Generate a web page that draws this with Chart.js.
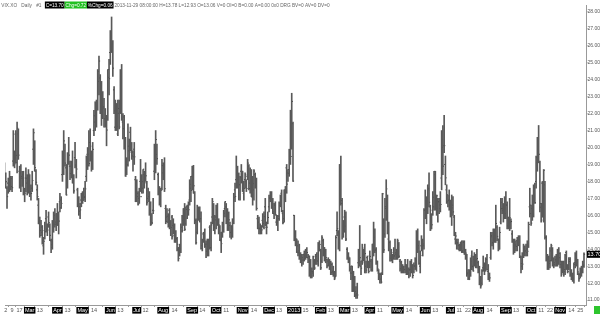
<!DOCTYPE html>
<html lang="en">
<head>
  <meta charset="UTF-8" />
  <title>VIX.XO Daily</title>
  <script src="https://cdn.jsdelivr.net/npm/chart.js"></script>
  <style>
    body { margin: 0; background: #ffffff; }
    #wrap { width: 600px; height: 314px; }
  </style>
</head>
<body>
  <div id="wrap"><canvas id="vixChart" width="600" height="314"></canvas></div>

  <script>
    // trading calendar: weekdays between these dates, minus exchange holidays
    const firstDay = '2012-02-01';
    const lastDay = '2013-11-29';
    const holidays = ['2012-02-20', '2012-04-06', '2012-05-28', '2012-07-04', '2012-09-03', '2012-10-29',
      '2012-10-30', '2012-11-22', '2012-12-25', '2013-01-01', '2013-01-21', '2013-02-18', '2013-03-29',
      '2013-05-27', '2013-07-04', '2013-09-02', '2013-11-28'];

    // OHLC, one line per month (Feb 2012 .. Nov 2013)
    const opens = [
      18.9,18.3,17.6,17.9,18.1,17.9,17.7,19.2,19.6,19.7,19.1,20.8,18.6,18.5,18.3,18.4,17.3,18.2,17.9,17.9,
      18.1,17.4,17.6,19.9,20.1,18.6,17.5,16.6,15.5,15.1,15.0,14.2,15.1,15.8,15.2,15.9,15.3,14.5,14.1,15.5,16.0,15.6,
      16.1,15.4,16.8,16.9,18.4,18.7,19.8,18.8,17.9,19.6,18.9,18.9,18.4,17.9,19.4,18.9,17.5,16.9,16.5,16.9,
      17.3,17.2,17.1,18.3,19.6,19.6,20.3,19.5,19.0,21.0,21.5,21.6,22.7,23.9,24.1,22.3,22.5,22.4,21.7,21.5,21.7,24.6,
      25.6,26.4,26.1,23.4,21.2,22.5,20.8,22.3,22.1,23.9,21.5,21.8,20.4,18.5,19.0,19.8,20.9,19.8,19.5,19.9,18.1,
      17.1,17.3,17.0,18.0,18.2,17.6,18.4,18.4,17.9,17.0,17.1,16.6,15.6,16.3,18.6,18.8,19.6,18.4,17.4,16.8,17.6,
      18.5,18.9,16.4,15.9,15.6,16.3,15.3,15.9,15.4,14.8,15.0,14.6,14.0,14.1,13.9,15.3,15.7,16.4,15.5,16.5,16.4,16.9,17.6,
      18.3,18.1,17.3,15.7,15.0,16.3,16.3,15.8,14.2,14.9,14.9,14.3,14.3,13.9,15.3,14.1,15.9,16.5,15.1,
      15.9,16.2,15.6,15.3,14.5,15.0,15.4,16.4,16.5,15.6,15.9,15.4,15.0,15.2,15.7,17.5,18.1,18.4,17.9,17.8,18.6,
      18.5,17.3,18.1,18.0,18.3,18.9,17.9,18.5,17.6,17.5,18.4,18.0,15.8,15.6,15.2,15.2,15.7,15.3,16.5,15.3,15.6,
      16.5,17.0,17.3,16.9,16.1,16.6,15.6,15.6,15.8,16.7,17.3,16.1,15.8,17.5,18.8,18.5,18.7,19.4,20.9,21.4,
      16.0,14.6,14.6,14.2,13.9,13.6,13.3,13.5,13.7,13.7,13.7,13.5,13.6,13.0,12.7,12.6,13.3,13.3,13.7,13.3,14.1,
      13.9,13.3,14.5,14.1,13.5,13.4,13.3,13.3,12.9,13.1,12.7,12.6,12.4,15.1,15.0,14.2,18.6,16.7,14.9,
      15.9,15.9,14.0,13.5,13.4,12.6,13.0,11.6,12.2,11.5,11.4,13.2,13.3,13.0,13.3,13.9,13.2,13.0,13.5,13.0,
      13.6,13.3,12.8,14.3,14.7,14.0,13.3,12.6,12.5,12.5,12.6,15.7,14.9,16.4,17.0,14.6,14.4,13.6,13.5,13.8,13.6,13.8,
      13.6,14.3,13.3,13.2,12.8,12.9,12.8,13.0,12.9,12.6,12.8,12.8,12.7,12.7,13.0,13.1,15.0,14.2,13.0,14.2,14.3,14.2,
      16.3,16.1,16.4,17.6,16.5,15.5,16.3,16.5,18.4,16.7,16.4,16.8,16.4,18.2,20.0,20.1,19.0,17.5,16.8,16.9,
      16.4,16.5,16.6,15.9,14.6,14.5,14.4,14.0,14.1,14.4,13.9,14.4,13.7,13.6,12.6,12.3,12.6,13.6,13.0,13.4,13.4,13.4,
      13.2,12.9,12.2,12.0,12.9,13.0,12.8,13.4,12.7,12.4,13.5,14.8,14.4,15.0,14.7,15.3,14.6,14.4,15.6,16.4,16.4,16.0,
      16.1,16.6,15.4,15.3,15.6,14.9,14.5,13.9,14.2,14.5,14.4,14.6,13.5,13.0,13.6,13.9,13.9,13.8,14.3,16.5,
      16.1,16.4,16.2,17.6,18.0,19.1,20.2,19.1,16.7,17.9,15.9,17.8,14.7,13.5,13.2,13.3,13.9,14.0,13.3,13.2,13.4,13.2,13.3,
      13.5,13.1,12.9,13.0,12.8,13.8,13.0,12.9,13.4,12.6,12.4,12.3,13.2,13.4,13.2,12.5,12.5,12.6,12.8,13.06
    ];
    const highs = [
      19.1,18.5,17.7,18.2,18.6,18.3,18.3,21.0,19.8,21.0,21.5,21.1,18.9,19.0,18.6,18.6,17.6,18.8,18.4,18.7,
      18.4,17.8,18.6,21.1,20.4,18.7,17.8,17.0,15.9,15.7,15.4,14.7,15.6,16.3,15.5,16.2,15.5,14.6,15.7,16.2,16.4,16.1,
      16.7,16.2,17.3,17.1,19.8,21.0,20.2,19.0,19.7,20.6,19.2,19.2,19.8,18.4,20.3,19.3,17.6,17.1,16.7,17.3,
      17.4,17.6,18.0,19.5,20.0,21.0,21.1,19.8,20.3,22.2,22.7,22.8,24.6,25.4,24.3,23.9,23.3,22.9,22.3,21.9,24.6,25.2,
      26.9,27.7,26.3,23.6,22.8,22.6,22.8,22.8,24.6,24.9,22.0,21.9,20.6,19.4,21.4,20.5,21.2,20.3,19.8,20.3,18.3,
      18.1,17.4,17.6,19.3,18.4,18.7,18.6,19.1,18.0,17.6,17.4,16.8,16.1,17.0,20.2,21.0,20.2,18.5,17.7,17.6,19.3,
      19.1,19.4,16.6,16.4,16.1,16.4,15.7,16.0,15.8,15.5,15.1,14.7,14.1,14.3,15.5,16.0,16.4,16.7,16.5,16.6,16.8,18.1,18.3,
      18.9,18.95,17.4,15.8,16.6,16.5,16.5,16.2,14.6,15.0,15.2,14.5,14.6,14.6,15.4,15.6,17.0,16.7,16.0,
      16.6,16.7,15.8,15.4,15.0,15.6,16.3,16.8,16.7,16.4,16.2,15.6,15.4,15.8,17.3,17.9,19.5,18.9,18.5,18.3,19.0,
      18.6,18.0,18.5,18.1,19.3,19.0,18.8,18.7,18.3,18.7,18.5,18.2,16.0,15.9,15.5,15.4,16.1,16.2,17.0,15.6,16.2,
      17.2,17.4,17.4,17.0,16.7,16.8,16.0,16.0,16.8,17.2,17.5,16.3,17.5,17.7,19.0,18.7,19.9,22.2,23.2,21.5,
      16.0,15.1,14.6,14.5,14.3,13.8,13.7,13.7,13.9,14.0,14.1,13.7,13.6,13.4,12.9,13.6,13.4,13.7,13.8,14.4,14.5,
      14.0,14.8,14.6,14.1,14.0,13.4,13.5,13.4,13.3,13.2,13.0,12.7,14.8,16.2,15.1,19.0,19.5,17.0,15.7,
      16.3,16.2,14.1,13.8,13.5,13.0,13.0,12.7,12.4,11.8,12.0,14.0,15.4,13.3,14.3,14.0,14.3,13.3,13.6,13.3,
      13.9,13.4,14.3,15.6,15.2,14.1,13.3,12.8,12.6,12.6,17.3,15.8,17.0,18.1,17.2,15.6,14.5,14.0,13.7,14.1,14.6,14.0,
      14.6,14.4,13.4,13.3,13.1,13.0,13.4,13.1,13.4,12.9,13.3,13.4,13.1,13.2,13.5,15.1,15.2,14.5,13.9,14.8,14.6,16.4,
      17.5,17.1,17.8,18.5,16.6,16.1,17.4,18.6,18.6,17.2,17.0,17.0,17.4,21.0,21.3,21.9,19.5,17.8,17.2,17.5,
      16.9,17.2,17.1,16.0,15.0,14.6,14.6,14.3,14.4,14.5,14.5,14.5,14.0,13.7,12.8,12.8,13.5,13.9,13.6,13.8,13.7,14.0,
      13.3,13.0,12.4,12.8,13.6,13.2,13.5,13.7,13.1,12.6,15.0,15.0,15.2,15.2,16.6,15.4,14.6,15.3,17.0,17.0,16.7,17.1,
      17.4,16.8,15.9,17.0,15.8,15.1,14.6,14.6,14.5,14.7,14.8,14.8,13.6,13.8,14.3,14.2,14.3,14.5,15.6,17.6,
      16.6,17.2,17.8,17.9,19.5,20.6,21.3,19.2,16.7,18.0,18.7,18.0,14.8,13.7,13.6,14.1,14.3,14.1,13.5,13.6,13.7,14.0,14.1,
      13.8,13.3,13.3,13.3,13.7,13.9,13.1,13.5,13.5,12.8,12.6,13.2,13.8,13.9,13.4,12.6,12.9,13.0,13.3,13.78
    ];
    const lows = [
      17.9,17.6,16.4,17.3,17.4,17.5,17.4,18.9,18.8,19.1,18.5,19.3,17.6,17.4,17.7,17.2,16.8,17.4,17.2,17.3,
      17.1,16.9,17.4,19.0,18.6,17.8,16.9,15.5,14.7,14.8,14.3,13.7,14.6,15.0,14.8,15.3,14.5,13.8,14.0,15.0,15.3,15.1,
      15.4,14.9,16.2,16.4,18.0,18.4,18.9,17.2,17.6,19.0,18.1,18.2,17.9,17.3,18.8,18.2,16.5,16.0,15.8,16.5,
      16.7,16.9,16.8,18.0,18.7,18.9,19.2,18.6,18.7,20.7,21.0,21.2,22.2,23.1,22.0,21.3,21.7,21.2,21.2,20.1,21.6,23.1,
      24.9,25.6,24.2,22.0,21.0,21.0,20.7,21.1,22.0,21.6,20.5,19.9,18.3,18.4,18.9,19.2,19.8,19.3,18.6,19.0,16.8,
      16.8,16.6,16.7,17.4,17.3,17.3,17.6,18.0,16.6,16.8,16.0,15.4,15.5,16.1,18.1,18.5,19.0,17.2,16.6,16.5,17.5,
      18.1,17.4,15.5,15.6,15.3,15.2,14.8,14.6,14.9,14.4,14.4,13.9,13.3,13.6,13.8,15.0,15.4,15.1,15.4,15.8,16.0,16.6,16.8,
      17.5,17.3,15.5,14.3,14.9,15.7,15.6,14.0,13.9,14.4,14.1,13.5,13.6,13.6,14.0,13.9,15.5,15.1,14.9,
      15.2,15.4,14.9,14.5,13.8,14.7,15.0,15.9,15.5,15.1,15.1,14.7,14.6,14.7,15.5,16.8,17.6,17.6,16.9,16.9,17.9,
      17.4,16.9,17.6,17.4,18.1,17.5,17.3,17.1,16.6,16.9,17.6,16.3,15.2,14.9,14.9,14.9,15.3,15.2,15.4,14.9,15.5,
      16.2,16.8,16.4,16.1,15.8,16.0,15.4,15.1,15.7,16.5,16.2,15.5,15.6,16.8,17.3,18.0,18.3,19.0,19.9,18.0,
      14.5,14.2,13.8,13.6,13.4,13.2,13.0,13.1,13.3,13.4,13.5,13.2,12.4,12.3,12.3,12.4,12.8,13.1,13.1,13.0,13.9,
      12.8,13.2,13.6,13.3,13.2,12.9,13.0,12.8,12.5,12.5,12.4,12.2,12.4,14.8,14.0,13.9,16.6,14.6,14.7,
      15.0,14.5,13.4,13.2,12.7,12.2,11.5,11.5,11.2,11.1,11.1,12.9,13.0,12.5,13.1,13.3,12.6,12.6,12.9,12.6,
      12.9,12.7,12.7,13.6,13.8,13.1,12.7,12.2,12.0,12.0,12.5,13.8,14.7,15.7,14.9,13.9,13.3,13.3,13.2,13.4,13.4,13.4,
      13.4,13.5,12.7,12.6,12.6,12.6,12.6,12.5,12.5,12.3,12.4,12.6,12.3,12.6,12.8,12.7,13.8,13.1,12.6,13.9,13.6,14.0,
      15.8,15.5,16.1,16.5,15.1,15.2,16.0,16.3,16.3,16.0,15.6,16.1,16.2,17.5,18.4,19.7,17.8,16.7,16.5,16.3,
      15.9,15.4,16.0,14.8,14.3,14.0,14.0,13.9,13.9,13.8,13.8,13.7,13.4,12.4,12.2,12.2,12.4,12.8,12.7,13.0,12.9,12.9,
      12.6,11.9,11.7,11.9,12.7,12.5,12.7,12.8,12.2,12.1,13.4,14.2,14.0,14.4,14.4,14.5,13.9,14.0,15.5,16.1,15.6,15.8,
      15.8,15.2,15.2,15.1,15.2,14.4,13.7,13.8,13.9,13.9,14.2,13.5,12.6,12.8,13.5,13.6,13.6,13.6,14.1,15.9,
      15.4,15.7,15.9,16.7,17.6,18.6,19.1,16.2,15.6,15.9,15.6,14.6,13.3,12.8,12.8,12.9,13.3,13.0,12.9,13.0,13.0,13.0,13.1,
      12.9,12.4,12.6,12.4,12.5,12.8,12.6,12.8,12.4,12.2,12.1,12.0,12.9,13.0,12.5,12.1,12.3,12.4,12.6,12.93
    ];
    const closes = [
      18.31,17.98,17.10,17.76,17.87,18.16,17.63,20.79,19.04,19.54,21.14,19.55,17.78,18.19,18.19,17.31,17.31,18.19,17.95,18.43,
      17.26,17.29,18.05,20.87,18.81,17.95,17.11,15.64,14.80,15.31,14.47,14.47,15.04,15.13,15.13,15.57,14.82,14.26,15.59,15.47,15.48,15.50,
      15.64,15.66,16.44,16.70,18.81,20.39,19.08,17.20,19.55,19.55,18.46,18.64,18.36,17.44,18.97,18.73,16.82,16.24,16.32,17.15,
      16.88,17.05,17.56,19.16,18.94,19.05,20.08,18.83,19.89,21.87,21.97,22.27,24.49,25.10,22.01,22.48,22.33,21.68,21.76,21.03,24.14,24.06,
      26.66,26.12,24.68,22.16,21.72,21.23,22.02,21.21,22.71,21.68,21.11,20.25,18.32,18.96,20.08,19.71,20.11,19.72,19.45,19.45,17.08,
      17.11,16.66,17.50,17.10,17.98,18.72,17.95,18.33,16.74,17.11,16.48,15.45,15.55,16.27,18.62,20.47,19.34,17.53,16.70,17.48,18.93,
      18.96,17.57,15.64,15.95,15.99,15.32,15.28,14.74,15.02,14.85,14.63,14.29,13.45,14.02,15.07,15.11,16.27,15.18,16.35,16.25,16.33,17.83,17.47,
      17.98,17.74,15.60,14.38,16.28,16.41,15.80,14.05,14.51,14.59,14.18,13.88,13.98,14.51,14.08,15.43,16.81,15.28,15.73,
      16.32,15.71,15.43,14.55,14.33,15.12,16.12,16.80,15.58,16.14,15.73,14.98,15.03,15.56,17.06,17.11,18.71,18.03,17.81,18.22,18.60,
      17.54,17.59,18.39,17.58,19.08,17.58,18.61,17.08,17.87,18.61,17.99,16.41,15.24,15.24,15.31,15.14,15.51,15.92,15.42,15.30,15.87,
      17.03,17.06,16.58,16.20,16.60,16.05,15.57,15.95,16.56,17.00,16.24,15.57,17.36,17.67,17.84,18.48,19.47,19.47,22.72,18.02,
      14.68,14.56,13.83,13.79,13.62,13.49,13.36,13.36,13.52,13.55,13.81,13.57,12.46,12.43,12.69,13.57,12.89,13.57,13.31,14.32,14.28,
      12.90,14.67,13.72,13.41,13.50,13.02,13.16,12.94,12.64,12.66,12.46,12.31,14.68,15.22,14.17,18.99,16.87,14.73,15.51,
      15.36,14.60,13.48,13.53,12.83,12.59,11.56,12.27,11.30,11.30,11.30,13.35,13.50,12.88,14.07,13.57,13.74,12.77,13.15,12.70,
      13.58,12.78,14.21,13.89,13.92,13.19,12.84,12.36,12.24,12.06,17.27,13.96,16.51,17.56,14.97,14.39,13.48,13.61,13.62,13.61,13.71,13.52,
      14.49,13.59,12.85,12.66,12.73,12.80,13.09,12.59,12.55,12.77,12.80,13.07,12.45,13.02,13.37,14.39,14.07,13.17,13.63,14.48,14.31,16.30,
      16.29,16.27,17.50,16.77,15.14,15.44,17.07,18.59,16.41,17.15,16.80,16.61,16.64,20.49,18.90,20.11,18.21,17.21,16.86,16.86,
      16.60,16.44,16.20,14.89,14.78,14.35,14.21,14.01,14.42,13.84,14.42,13.78,13.77,12.54,12.29,12.59,13.28,12.97,12.72,13.39,13.39,13.45,
      12.94,11.98,11.84,12.72,12.98,12.73,13.41,12.81,12.31,12.31,14.73,14.37,15.10,14.70,15.52,14.76,13.98,14.99,16.77,16.27,15.91,17.01,
      16.61,15.36,15.58,15.85,15.63,14.53,13.82,14.29,14.16,14.38,14.53,13.59,13.16,13.12,14.08,13.90,14.01,13.88,15.46,16.60,
      15.54,16.60,17.67,16.74,19.41,20.34,19.60,16.48,15.72,16.07,18.66,14.71,13.42,13.04,13.16,13.33,14.20,13.20,13.09,13.31,13.41,13.33,13.75,
      13.28,12.53,13.27,12.67,13.65,12.90,12.68,13.28,12.52,12.37,12.19,13.10,13.39,13.40,12.66,12.26,12.57,12.81,12.98,13.70
    ];

    // x-axis labels as they appear under the bars; words get the black box
    const tickDates = ['2012-02-02', '2012-02-09', '2012-02-17', '2012-03-01', '2012-03-13', '2012-04-02', '2012-04-13',
      '2012-05-01', '2012-05-14', '2012-06-01', '2012-06-13', '2012-07-02', '2012-07-12', '2012-08-01', '2012-08-14',
      '2012-09-04', '2012-09-14', '2012-10-01', '2012-10-11', '2012-11-01', '2012-11-14', '2012-12-03', '2012-12-13',
      '2013-01-02', '2013-01-15', '2013-02-01', '2013-02-13', '2013-03-01', '2013-03-13', '2013-04-01', '2013-04-11',
      '2013-05-01', '2013-05-14', '2013-06-03', '2013-06-13', '2013-07-01', '2013-07-11', '2013-07-22', '2013-08-01',
      '2013-08-14', '2013-09-03', '2013-09-13', '2013-10-01', '2013-10-11', '2013-10-22', '2013-11-01', '2013-11-14', '2013-11-25'];
    const tickText = ['2', '9', '17', 'Mar', '13', 'Apr', '13', 'May', '14', 'Jun', '13', 'Jul', '12', 'Aug', '14',
      'Sep', '14', 'Oct', '11', 'Nov', '14', 'Dec', '13', '2013', '15', 'Feb', '13', 'Mar', '13', 'Apr', '11',
      'May', '14', 'Jun', '13', 'Jul', '11', '22', 'Aug', '14', 'Sep', '13', 'Oct', '11', '22', 'Nov', '14', '25'];
    const priceTicks = [11, 12, 13, 14, 15, 16, 17, 18, 19, 20, 21, 22, 23, 24, 25, 26, 27, 28];

    const FONT = '"Liberation Sans Narrow", "Liberation Sans", Arial, sans-serif';

    // build the list of trading days
    const dates = [];
    for (let d = new Date(firstDay + 'T00:00:00Z'); d <= new Date(lastDay + 'T00:00:00Z'); d.setUTCDate(d.getUTCDate() + 1)) {
      const iso = d.toISOString().slice(0, 10);
      const wd = d.getUTCDay();
      if (wd === 0 || wd === 6 || holidays.includes(iso)) continue;
      dates.push(iso);
    }
    if (dates.length !== closes.length) console.warn('day count mismatch', dates.length, closes.length);

    const tickIdx = tickDates.map(t => dates.indexOf(t));
    const isWord = tickText.map(t => /[A-Za-z]/.test(t) || t.length === 4);

    const n = closes.length;
    const last = closes[n - 1];
    const prev = closes[n - 2];

    // status line, last price box and the corner marker
    const overlayPlugin = {
      id: 'overlay',
      afterDraw(chart) {
        const ctx = chart.ctx;
        const area = chart.chartArea;
        ctx.save();
        ctx.textBaseline = 'middle';

        // status line is drawn a bit condensed, like the terminal font
        ctx.save();
        ctx.scale(0.86, 1);
        ctx.font = '5.5px ' + FONT;
        const chg = last - prev;
        const parts = [
          ['VIX.XO', null], ['Daily', null], ['#1', null],
          ['C=' + last.toFixed(2), '#000'],
          ['Chg=' + chg.toFixed(2), '#22c022'],
          ['%Chg=' + (chg / prev).toFixed(2), '#000'],
          ['2013-11-29 08:00:00 H=' + highs[n - 1].toFixed(2) + ' L=' + lows[n - 1].toFixed(2) + ' O=' + opens[n - 1].toFixed(2) +
            ' V=0 OI=0 B=0.00 A=0.00 0x0 DRG BV=0 AV=0 DV=0', null]
        ];
        let x = 1.5;
        parts.forEach(([txt, bg]) => {
          const w = ctx.measureText(txt).width;
          if (bg) {
            ctx.fillStyle = bg;
            ctx.fillRect(x - 1, 1.5, w + 2, 7);
            ctx.fillStyle = '#fff';
          } else {
            ctx.fillStyle = '#666';
          }
          ctx.fillText(txt, x, 5);
          x += w + (bg ? 2 : 5);
        });
        ctx.restore();

        // last close on the price axis
        ctx.font = '5.5px ' + FONT;
        const y = chart.scales.y.getPixelForValue(last);
        ctx.fillStyle = '#000';
        ctx.fillRect(area.right + 1, y - 3.5, chart.width - area.right - 1, 7);
        ctx.fillStyle = '#fff';
        ctx.fillText(last.toFixed(2), area.right + 1.5, y);

        ctx.fillStyle = '#2ec52e';
        ctx.fillRect(chart.width - 6, area.bottom + 1, 6, chart.height - area.bottom - 1);
        ctx.restore();
      }
    };

    new Chart(document.getElementById('vixChart'), {
      type: 'bar',
      data: {
        datasets: [
          {
            type: 'bar',
            data: dates.map((d, i) => ({ x: i, y: [lows[i], highs[i]] })),
            backgroundColor: '#595959',
            borderWidth: 0,
            barThickness: 1,
            grouped: false
          },
          {
            type: 'scatter',
            data: opens.map((v, i) => ({ x: i - 0.4, y: v })),
            pointStyle: 'line',
            radius: 0.6,
            borderColor: '#111',
            borderWidth: 1
          },
          {
            type: 'scatter',
            data: closes.map((v, i) => ({ x: i + 0.4, y: v })),
            pointStyle: 'line',
            radius: 0.6,
            borderColor: '#111',
            borderWidth: 1
          }
        ]
      },
      options: {
        responsive: false,
        animation: false,
        devicePixelRatio: 1,
        events: [],
        layout: { padding: 0 },
        plugins: { legend: { display: false }, tooltip: { enabled: false } },
        scales: {
          x: {
            type: 'linear',
            bounds: 'data',
            min: 0.4,
            max: 461.6,
            offset: false,
            afterFit(s) { s.height = 9; s.paddingLeft = 0; s.paddingRight = 0; },
            afterBuildTicks(s) { s.ticks = tickIdx.map(v => ({ value: v })); },
            border: { color: '#999' },
            grid: { drawOnChartArea: false, tickLength: 2, color: '#999' },
            ticks: {
              autoSkip: false,
              maxRotation: 0,
              minRotation: 0,
              padding: 0,
              font: { family: FONT, size: 5.5 },
              color: c => isWord[c.index] ? '#fff' : '#555',
              showLabelBackdrop: c => isWord[c.index],
              backdropColor: '#000',
              backdropPadding: { top: 0, bottom: 0, left: 1, right: 1 },
              callback: (v, i) => tickText[i]
            }
          },
          y: {
            type: 'linear',
            position: 'right',
            bounds: 'data',
            min: 10.71,
            max: 28.406,
            afterFit(s) { s.width = 14; s.paddingTop = 0; s.paddingBottom = 0; },
            afterBuildTicks(s) { s.ticks = priceTicks.map(v => ({ value: v })); },
            border: { color: '#999' },
            grid: { drawOnChartArea: false, tickLength: 1.5, color: '#999' },
            ticks: {
              padding: 0,
              font: { family: FONT, size: 5 },
              color: '#555',
              callback: v => v.toFixed(2)
            }
          }
        }
      },
      plugins: [overlayPlugin]
    });
  </script>
</body>
</html>
